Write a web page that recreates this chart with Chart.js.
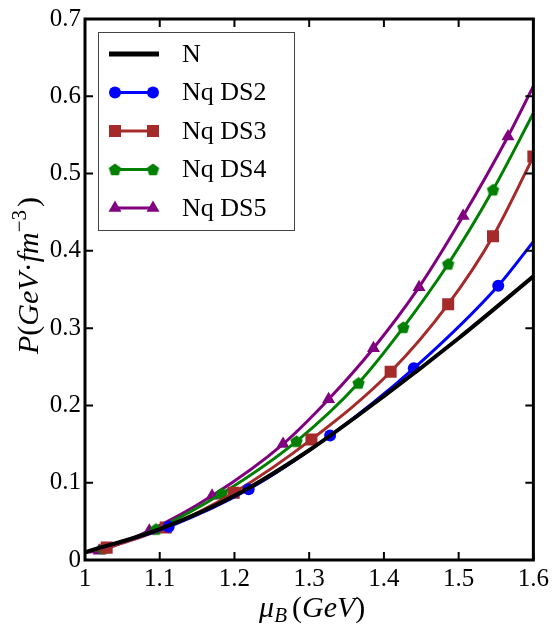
<!DOCTYPE html>
<html>
<head>
<meta charset="utf-8">
<script src="https://cdn.jsdelivr.net/npm/chart.js@4.4.1/dist/chart.umd.min.js"></script>
<style>
  html, body { margin: 0; padding: 0; background: #fff; }
  #wrap { width: 553px; height: 628px; position: relative; }
  #wrap canvas { position: relative; z-index: 1; }
  /* white text behind the canvas, so the serif fonts get picked up before drawing */
  .warm { position: absolute; left: 200px; top: 300px; color: #fff; font-size: 20px; z-index: 0; }
</style>
</head>
<body>
<div id="wrap">
  <span class="warm" style="font-family:'Liberation Serif'">0.1</span>
  <span class="warm" style="font-family:'Liberation Serif';font-style:italic">GeV</span>
  <canvas id="chart"></canvas>
</div>
<script>
// tick labels
const xTickLabels = ['1', '1.1', '1.2', '1.3', '1.4', '1.5', '1.6'];
const yTickLabels = ['0', '0.1', '0.2', '0.3', '0.4', '0.5', '0.6', '0.7'];

// N (no markers)
const nX = [1.0, 1.1, 1.2, 1.3, 1.4, 1.5, 1.6];
const nP = [0.010, 0.040, 0.083, 0.142, 0.212, 0.287, 0.367];

// Nq DS2
const ds2X = [1.0, 1.112, 1.219, 1.328, 1.440, 1.553, 1.6];
const ds2P = [0.010, 0.043, 0.0915, 0.161, 0.248, 0.355, 0.412];

// Nq DS3
const ds3X = [1.0, 1.029, 1.108, 1.199, 1.303, 1.409, 1.486, 1.546, 1.6];
const ds3P = [0.010, 0.016, 0.042, 0.087, 0.156, 0.2435, 0.331, 0.419, 0.522];

// Nq DS4
const ds4X = [1.0, 1.024, 1.095, 1.183, 1.283, 1.366, 1.426, 1.486, 1.546, 1.6];
const ds4P = [0.010, 0.015, 0.040, 0.086, 0.1536, 0.229, 0.301, 0.383, 0.479, 0.578];

// Nq DS5
const ds5X = [1.0, 1.019, 1.086, 1.170, 1.265, 1.326, 1.386, 1.447, 1.506, 1.566, 1.6];
const ds5P = [0.010, 0.012, 0.038, 0.083, 0.150, 0.208, 0.274, 0.353, 0.445, 0.548, 0.613];

const toPts = (xs, ys) => xs.map((x, i) => ({ x, y: ys[i] }));

// pentagon marker, chart.js has none built in
function pentagon(color, r) {
  const c = document.createElement('canvas');
  const s = Math.ceil(r * 2 + 2);
  c.width = s; c.height = s;
  const g = c.getContext('2d');
  g.fillStyle = color;
  g.beginPath();
  for (let k = 0; k < 5; k++) {
    const a = -Math.PI / 2 + k * 2 * Math.PI / 5;
    const px = s / 2 + r * Math.cos(a), py = s / 2 + r * Math.sin(a) + 0.6;
    k ? g.lineTo(px, py) : g.moveTo(px, py);
  }
  g.closePath();
  g.fill();
  return c;
}

const markerSize = { 'Nq DS2': 6, 'Nq DS3': 8.5, 'Nq DS4': 6.5, 'Nq DS5': 7.5 };

function series(label, xs, ys, color, style, endMarker) {
  const r = markerSize[label];
  return {
    label,
    data: toPts(xs, ys),
    borderColor: color,
    backgroundColor: color,
    borderWidth: 3,
    pointStyle: style,
    pointBorderWidth: 0,
    pointRadius: (ctx) => {
      const last = ctx.dataset.data.length - 1;
      if (ctx.dataIndex === 0) return 0;
      if (ctx.dataIndex === last && !endMarker) return 0;
      return r;
    },
    cubicInterpolationMode: 'monotone',
    clip: 0,
  };
}

const datasets = [
  {
    label: 'N',
    data: toPts(nX, nP),
    borderColor: '#000',
    backgroundColor: '#000',
    borderWidth: 4,
    pointRadius: 0,
    cubicInterpolationMode: 'monotone',
    clip: 0,
  },
  series('Nq DS2', ds2X, ds2P, '#0000ff', 'circle', false),
  series('Nq DS3', ds3X, ds3P, '#a52a2a', 'rect', true),
  series('Nq DS4', ds4X, ds4P, '#008000', pentagon('#008000', 6.5), false),
  series('Nq DS5', ds5X, ds5P, '#800080', 'triangle', false),
];

const SERIF = '"Liberation Serif", serif';

// frame and inward ticks on all four sides, plus legend and axis titles
const decorPlugin = {
  id: 'decor',
  afterDatasetsDraw(chart) {
    const { ctx, chartArea: a, scales } = chart;
    ctx.save();
    ctx.strokeStyle = '#000';
    ctx.lineWidth = 2;
    const tl = 8;
    scales.x.ticks.forEach((t) => {
      const px = scales.x.getPixelForValue(t.value);
      ctx.beginPath();
      ctx.moveTo(px, a.bottom); ctx.lineTo(px, a.bottom - tl);
      ctx.moveTo(px, a.top); ctx.lineTo(px, a.top + tl);
      ctx.stroke();
    });
    scales.y.ticks.forEach((t) => {
      const py = scales.y.getPixelForValue(t.value);
      ctx.beginPath();
      ctx.moveTo(a.left, py); ctx.lineTo(a.left + tl, py);
      ctx.moveTo(a.right, py); ctx.lineTo(a.right - tl, py);
      ctx.stroke();
    });
    ctx.lineWidth = 3;
    ctx.strokeRect(a.left, a.top, a.right - a.left, a.bottom - a.top);
    ctx.restore();
    drawLegend(chart);
    drawTitles(chart);
  },
};

function drawLegend(chart) {
  const { ctx, chartArea: a } = chart;
  const bx = a.left + 13, by = a.top + 13, bw = 196, bh = 198;
  ctx.save();
  ctx.fillStyle = '#fff';
  ctx.fillRect(bx, by, bw, bh);
  ctx.strokeStyle = '#444';
  ctx.lineWidth = 1;
  ctx.strokeRect(bx + 0.5, by + 0.5, bw, bh);
  chart.data.datasets.forEach((ds, i) => {
    const y = by + 22 + i * 38.5;
    const x0 = bx + 14, x1 = bx + 58;
    ctx.strokeStyle = ds.borderColor;
    ctx.lineWidth = i === 0 ? 5 : 3;
    ctx.beginPath();
    ctx.moveTo(x0 - (i === 0 ? 3 : 0), y);
    ctx.lineTo(x1 + (i === 0 ? 3 : 0), y);
    ctx.stroke();
    if (i > 0) {
      ctx.fillStyle = ds.borderColor;
      const opts = { pointStyle: ds.pointStyle, radius: markerSize[ds.label], borderWidth: 0, rotation: 0 };
      Chart.helpers.drawPoint(ctx, opts, x0 + 3, y);
      Chart.helpers.drawPoint(ctx, opts, x1 - 3, y);
    }
    ctx.fillStyle = '#000';
    ctx.font = '26px ' + SERIF;
    ctx.textBaseline = 'middle';
    ctx.textAlign = 'left';
    ctx.fillText(ds.label, bx + 84, y + 1);
  });
  ctx.restore();
}

// draw a run of text pieces (math-like: italic letters, sub/superscripts)
function drawRuns(ctx, runs, cx, cy, size) {
  const fontOf = (r) => `${r.it ? 'italic ' : ''}${Math.round(size * (r.s || 1))}px ${SERIF}`;
  let total = 0;
  runs.forEach((r) => { ctx.font = fontOf(r); total += ctx.measureText(r.t).width + (r.gap || 0); });
  let x = cx - total / 2;
  ctx.textBaseline = 'alphabetic';
  ctx.textAlign = 'left';
  runs.forEach((r) => {
    ctx.font = fontOf(r);
    ctx.fillText(r.t, x, cy + (r.dy || 0));
    x += ctx.measureText(r.t).width + (r.gap || 0);
  });
}

function drawTitles(chart) {
  const { ctx, chartArea: a } = chart;
  ctx.save();
  ctx.fillStyle = '#000';
  drawRuns(ctx, [
    { t: 'μ', it: true },
    { t: 'B', it: true, s: 0.7, dy: 5, gap: 5 },
    { t: '(' },
    { t: 'GeV', it: true },
    { t: ')' },
  ], (a.left + a.right) / 2 + 3, 617, 30);
  ctx.translate(38, (a.top + a.bottom) / 2 - 14);
  ctx.rotate(-Math.PI / 2);
  drawRuns(ctx, [
    { t: 'P', it: true },
    { t: '(' },
    { t: 'GeV', it: true },
    { t: '·' },
    { t: 'fm', it: true },
    { t: '−3', s: 0.7, dy: -12, gap: 3 },
    { t: ')' },
  ], 0, 0, 30);
  ctx.restore();
}

function build() {
  const chart = new Chart(document.getElementById('chart'), {
    type: 'line',
    data: { datasets },
    options: {
      responsive: true,
      maintainAspectRatio: false,
      animation: false,
      layout: { padding: { top: 12, right: 19 } },
      plugins: { legend: { display: false }, tooltip: { enabled: false } },
      scales: {
        x: {
          type: 'linear', min: 1, max: 1.6,
          grid: { display: false, drawTicks: false },
          border: { display: false },
          ticks: {
            stepSize: 0.1, color: '#000', padding: 4, maxRotation: 0,
            font: { family: SERIF, size: 25 },
            callback: (v, i) => xTickLabels[i],
          },
          afterFit: (s) => { s.height = 68; },
        },
        y: {
          min: 0, max: 0.7,
          grid: { display: false, drawTicks: false },
          border: { display: false },
          ticks: {
            stepSize: 0.1, color: '#000', padding: 4,
            font: { family: SERIF, size: 25 },
            callback: (v, i) => yTickLabels[i],
          },
          afterFit: (s) => { s.width = 85; },
        },
      },
    },
    plugins: [decorPlugin],
  });
  // one more pass once layout has settled, in case a font came in late
  requestAnimationFrame(() => chart.draw());
}

Promise.all([document.fonts.load('25px "Liberation Serif"')]).then(build, build);
</script>
</body>
</html>
